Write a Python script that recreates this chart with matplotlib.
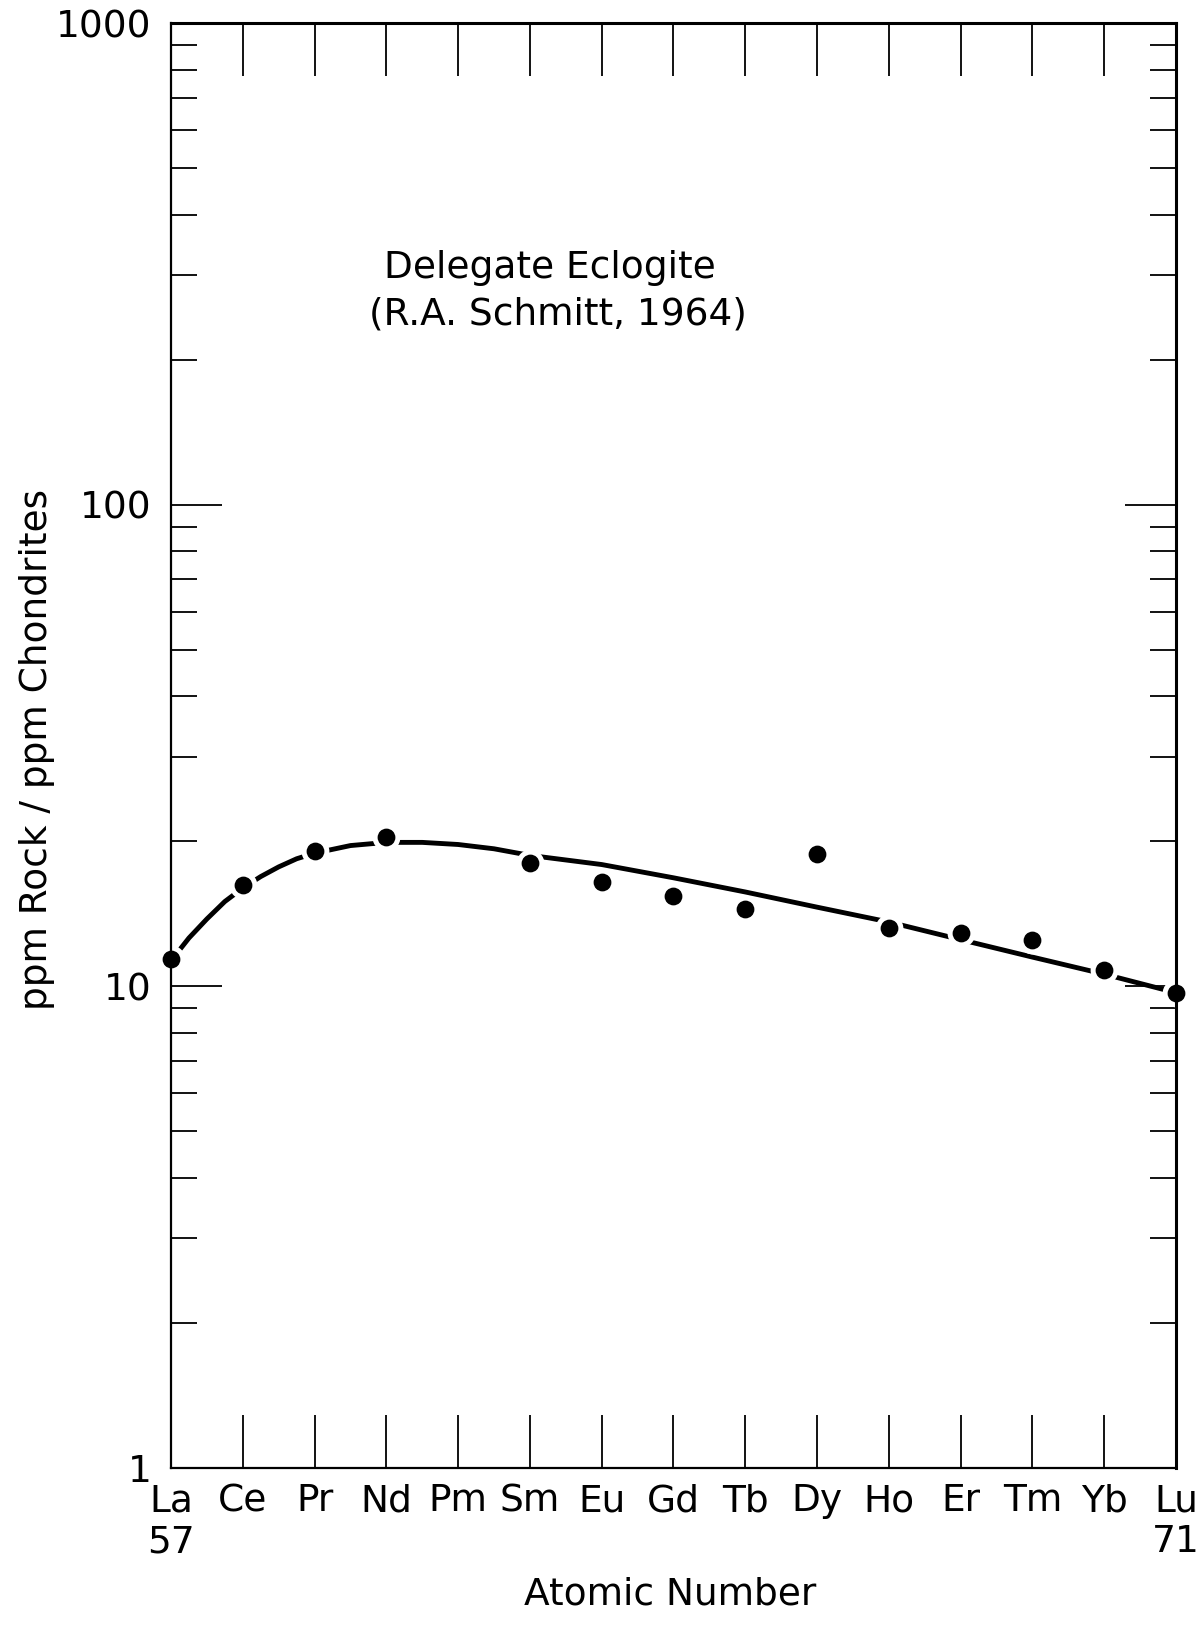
import matplotlib
matplotlib.use("Agg")
import matplotlib.pyplot as plt
from matplotlib.ticker import FixedLocator, NullFormatter

# ---- data ----
elements = ["La", "Ce", "Pr", "Nd", "Pm", "Sm", "Eu", "Gd", "Tb", "Dy", "Ho", "Er", "Tm", "Yb", "Lu"]
atomic_numbers = [57, 58, 59, 60, 61, 62, 63, 64, 65, 66, 67, 68, 69, 70, 71]

# measured points (Pm has no value)
point_z = [57, 58, 59, 60, 62, 63, 64, 65, 66, 67, 68, 69, 70, 71]
point_val = [11.4, 16.2, 19.1, 20.4, 18.0, 16.5, 15.4, 14.5, 18.8, 13.2, 12.9, 12.5, 10.8, 9.7]

# hand-drawn smooth curve
curve_z = [57, 57.25, 57.5, 57.75, 58, 58.25, 58.5, 58.75, 59, 59.5, 60, 60.5, 61, 61.5,
           62, 63, 64, 65, 66, 67, 68, 69, 70, 71]
curve_val = [11.3, 12.6, 13.8, 15.0, 16.0, 16.9, 17.7, 18.4, 18.9, 19.6, 19.9, 19.9, 19.7, 19.3,
             18.7, 17.9, 16.8, 15.7, 14.6, 13.6, 12.5, 11.5, 10.6, 9.7]

y_major = [1, 10, 100, 1000]
y_major_labels = ["1", "10", "100", "1000"]

title_lines = ["Delegate Eclogite", "(R.A. Schmitt, 1964)"]

# ---- figure ----
W, H = 1199, 1627
fig = plt.figure(figsize=(W / 100, H / 100), dpi=100)
plt.rcParams["font.family"] = ["DejaVu Sans"]
FS = 27
ax = fig.add_axes([171 / W, 1 - 1468 / H, (1176 - 171) / W, (1468 - 23) / H])

ax.set_yscale("log")
ax.set_xlim(57, 71)
ax.set_ylim(1, 1000)

# curve and points (white halo around dots breaks the line like the original)
ax.plot(curve_z, curve_val, color="black", lw=3.5, solid_capstyle="butt",
        solid_joinstyle="round", zorder=2)
ax.plot(point_z, point_val, "o", ms=20, mfc="white", mec="none", zorder=2.2, clip_on=False)
ax.plot(point_z, point_val, "o", ms=12.8, mfc="black", mec="none", zorder=2.3, clip_on=False)

# x ticks
ax.xaxis.set_major_locator(FixedLocator(atomic_numbers))
xlabels = []
for i, el in enumerate(elements):
    if i == 0 or i == len(elements) - 1:
        xlabels.append(f"{el}\n{atomic_numbers[i]}")
    else:
        xlabels.append(el)
ax.set_xticklabels(xlabels, fontsize=FS)
for lbl in ax.get_xticklabels():
    lbl.set_linespacing(1.18)
ax.tick_params(axis="x", which="major", direction="in", top=True, bottom=True,
               length=38, width=1.3, pad=11)
ax.xaxis.set_minor_locator(FixedLocator([]))

# y ticks
ax.yaxis.set_major_locator(FixedLocator(y_major))
ax.set_yticklabels(y_major_labels, fontsize=FS)
minor = [m * d for d in [1, 10, 100] for m in range(2, 10)]
ax.yaxis.set_minor_locator(FixedLocator(minor))
ax.yaxis.set_minor_formatter(NullFormatter())
ax.tick_params(axis="y", which="major", direction="in", left=True, right=True,
               length=37, width=1.3, pad=14)
ax.tick_params(axis="y", which="minor", direction="in", left=True, right=True,
               length=19, width=1.3)

for side, lw in [("top", 2.2), ("right", 2.2), ("left", 1.6), ("bottom", 1.6)]:
    ax.spines[side].set_linewidth(lw)
    ax.spines[side].set_zorder(3)

# labels
ax.set_xlabel("Atomic Number", fontsize=FS)
ax.xaxis.set_label_coords(0.497, -0.0872)
ax.xaxis.label.set_va("center")
ax.set_ylabel("ppm Rock / ppm Chondrites", fontsize=FS)
ax.yaxis.set_label_coords(-0.133, 0.497)
ax.yaxis.label.set_va("center")

ax.text(0.377, 0.8307, title_lines[0], transform=ax.transAxes, fontsize=FS,
        ha="center", va="center")
ax.text(0.385, 0.7986, title_lines[1], transform=ax.transAxes, fontsize=FS,
        ha="center", va="center")

fig.savefig("out.png", dpi=100, facecolor="white")
